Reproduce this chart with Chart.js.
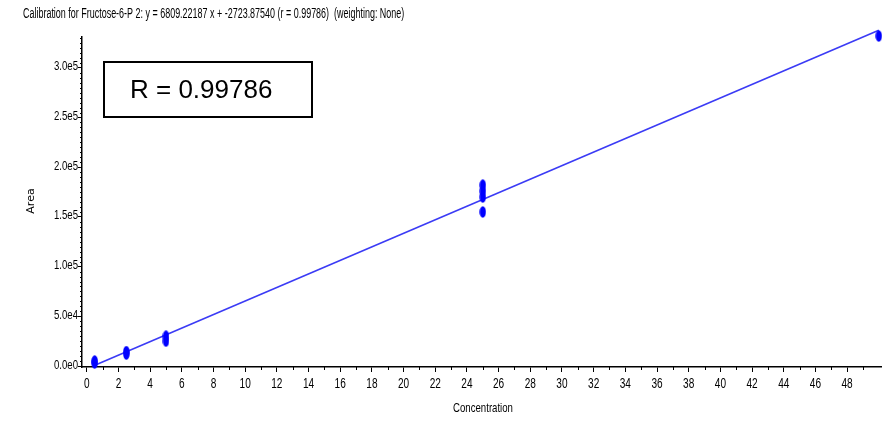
<!DOCTYPE html>
<html>
<head>
<meta charset="utf-8">
<script src="https://cdn.jsdelivr.net/npm/chart.js@4"></script>
<style>
  body { margin: 0; background: #fff; }
  #wrap { width: 888px; height: 426px; position: relative; }
</style>
</head>
<body>
<div id="wrap"><canvas id="myChart" width="888" height="426"></canvas></div>
<script>
var titleText = "Calibration for Fructose-6-P 2: y = 6809.22187 x + -2723.87540 (r = 0.99786)  (weighting: None)";
var rText = "R = 0.99786";

// measured points
var concentrations = [0.5, 0.5, 2.5, 2.5, 5, 5, 25, 25, 25, 25, 50];
var areas = [3000, 5000, 12000, 14500, 25000, 30000, 155000, 170000, 176000, 182000, 332000];

// fitted line end points
var fitX = [0.4, 50];
var fitY = [0, 337737];

// tick labels
var xTicks = [0,2,4,6,8,10,12,14,16,18,20,22,24,26,28,30,32,34,36,38,40,42,44,46,48];
var yTicks = [0, 50000, 100000, 150000, 200000, 250000, 300000];
var yLabels = ["0.0e0", "5.0e4", "1.0e5", "1.5e5", "2.0e5", "2.5e5", "3.0e5"];

var sans = "'Liberation Sans', Arial, sans-serif";

// squeezed text, the original uses a narrow face
function narrowText(c, txt, x, y, size, align, squeeze) {
  c.save();
  c.font = size + "px " + sans;
  c.textBaseline = "middle";
  var w = c.measureText(txt).width * squeeze;
  var x0 = align === "right" ? x - w : (align === "center" ? x - w / 2 : x);
  c.translate(x0, y);
  c.scale(squeeze, 1);
  c.textAlign = "left";
  c.fillText(txt, 0, 0);
  c.restore();
}

// ellipse marker
var dot = document.createElement("canvas");
dot.width = 7; dot.height = 12;
var dctx = dot.getContext("2d");
dctx.fillStyle = "#0000ff";
dctx.beginPath();
dctx.ellipse(3.5, 6, 3.2, 5.7, 0, 0, Math.PI * 2);
dctx.fill();

var scatterData = concentrations.map(function(c, i) { return {x: c, y: areas[i]}; });
var lineData = fitX.map(function(c, i) { return {x: c, y: fitY[i]}; });

var extras = {
  id: "extras",
  afterDraw: function(chart) {
    var c = chart.ctx, xs = chart.scales.x, ys = chart.scales.y, a = chart.chartArea;
    c.save();
    c.strokeStyle = "#000";
    c.lineWidth = 1;
    // minor ticks
    c.beginPath();
    for (var v = 1; v < 50.1; v += 2) {
      var px = Math.round(xs.getPixelForValue(v)) + 0.5;
      c.moveTo(px, a.bottom); c.lineTo(px, a.bottom + 3);
    }
    for (var w = 5000; w < 331000; w += 5000) {
      if (w % 50000 === 0) continue;
      var py = Math.round(ys.getPixelForValue(w)) + 0.5;
      c.moveTo(a.left - 2, py); c.lineTo(a.left, py);
    }
    c.stroke();
    c.fillStyle = "#000";
    // tick labels
    xTicks.forEach(function(t) {
      narrowText(c, String(t), xs.getPixelForValue(t), a.bottom + 17, 14, "center", 0.72);
    });
    yTicks.forEach(function(t, i) {
      narrowText(c, yLabels[i], a.left - 4, ys.getPixelForValue(t) - 1, 13, "right", 0.74);
    });
    // title
    narrowText(c, titleText, 23, 14, 14, "left", 0.64);
    // axis titles
    narrowText(c, "Concentration", 483, 408, 13, "center", 0.74);
    c.save();
    c.translate(31, 201);
    c.rotate(-Math.PI / 2);
    c.textAlign = "center";
    c.textBaseline = "middle";
    c.font = "11px 'DejaVu Sans', sans-serif";
    c.fillText("Area", 0, 0);
    c.restore();
    // R box
    c.fillStyle = "#fff";
    c.fillRect(104, 62, 208, 55);
    c.lineWidth = 2;
    c.strokeRect(104, 62, 208, 55);
    c.fillStyle = "#000";
    c.font = "26px " + sans;
    c.textAlign = "left";
    c.textBaseline = "middle";
    c.fillText(rText, 130, 91);
    c.restore();
  }
};

var ctx = document.getElementById("myChart");
var myChart = new Chart(ctx, {
  type: "scatter",
  data: {
    datasets: [
      {
        type: "line",
        data: lineData,
        borderColor: "#3b3bf5",
        borderWidth: 1.6,
        pointRadius: 0,
        fill: false,
        clip: false,
        order: 2
      },
      {
        data: scatterData,
        pointStyle: dot,
        pointRadius: 6,
        clip: false,
        order: 1
      }
    ]
  },
  plugins: [extras],
  options: {
    responsive: false,
    animation: false,
    layout: { padding: { left: 0, top: 37, right: 3, bottom: 0 } },
    plugins: { legend: { display: false }, tooltip: { enabled: false } },
    scales: {
      x: {
        type: "linear",
        min: -0.3,
        max: 50.14,
        afterFit: function(s) { s.height = 59; },
        afterBuildTicks: function(s) {
          s.ticks = xTicks.map(function(t) { return {value: t}; });
        },
        grid: { drawOnChartArea: false, color: "#000", tickLength: 5, tickWidth: 1 },
        border: { color: "#000", width: 1.5 },
        ticks: { display: false }
      },
      y: {
        type: "linear",
        min: -1000,
        max: 331000,
        afterFit: function(s) { s.width = 82; },
        afterBuildTicks: function(s) {
          s.ticks = yTicks.map(function(t) { return {value: t}; });
        },
        grid: { drawOnChartArea: false, color: "#000", tickLength: 4, tickWidth: 1 },
        border: { color: "#000", width: 1.5 },
        ticks: { display: false }
      }
    }
  }
});
</script>
</body>
</html>
